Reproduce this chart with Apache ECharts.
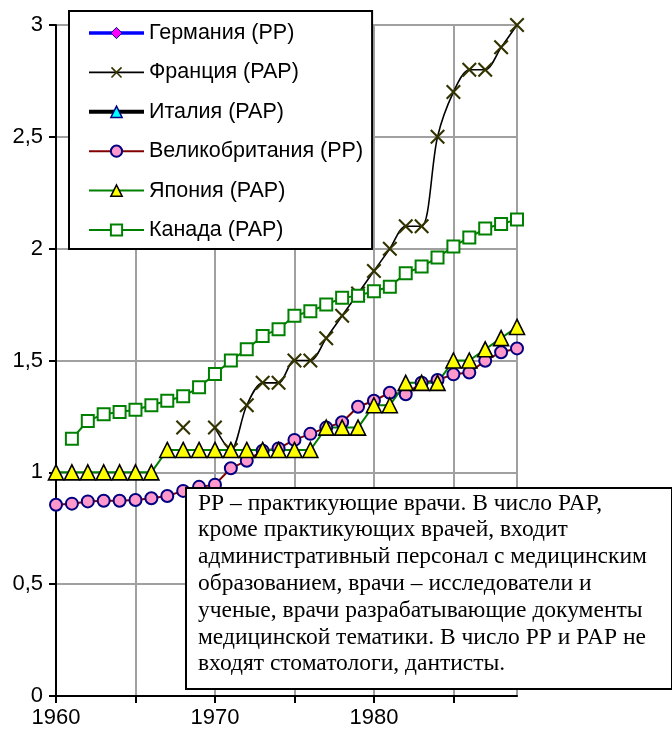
<!DOCTYPE html>
<html>
<head>
<meta charset="utf-8">
<script src="https://cdn.jsdelivr.net/npm/echarts@6/dist/echarts.min.js"></script>
<style>
html,body{margin:0;padding:0;background:#fff;}
#chart{width:672px;height:731px;}
</style>
</head>
<body>
<div id="chart"></div>
<script>
const years = [1960,1961,1962,1963,1964,1965,1966,1967,1968,1969,1970,1971,1972,1973,1974,1975,1976,1977,1978,1979,1980,1981,1982,1983,1984,1985,1986,1987,1988,1989];
const germany = [];
const italy = [];
const france = [null,null,null,null,null,null,null,null,1.2,null,1.2,1.1,1.3,1.4,1.4,1.5,1.5,1.6,1.7,1.8,1.9,2.0,2.1,2.1,2.5,2.7,2.8,2.8,2.9,3.0];
const uk = [0.855,0.86,0.87,0.873,0.873,0.876,0.884,0.894,0.917,0.935,0.945,1.018,1.052,1.097,1.107,1.145,1.172,1.2,1.224,1.293,1.32,1.356,1.349,1.401,1.413,1.438,1.446,1.499,1.537,1.554];
const japan = [1.0,1.0,1.0,1.0,1.0,1.0,1.0,1.1,1.1,1.1,1.1,1.1,1.1,1.1,1.1,1.1,1.1,1.2,1.2,1.2,1.3,1.3,1.4,1.4,1.4,1.5,1.5,1.55,1.6,1.65];
const canada = [null,1.15,1.23,1.26,1.27,1.28,1.30,1.32,1.34,1.38,1.44,1.50,1.55,1.61,1.64,1.70,1.72,1.75,1.78,1.79,1.81,1.83,1.89,1.92,1.96,2.01,2.05,2.09,2.11,2.13];
const seriesNames = ['Германия (PP)','Франция (PAP)','Италия (PAP)','Великобритания (PP)','Япония (PAP)','Канада (PAP)'];
const yTicks = [0,0.5,1,1.5,2,2.5,3];
const xLabels = [1960,1970,1980];
const noteLines = [
 'PP – практикующие врачи. В число PAP,',
 'кроме практикующих врачей, входит',
 'административный персонал с медицинским',
 'образованием, врачи – исследователи и',
 'ученые, врачи разрабатывающие документы',
 'медицинской тематики. В число PP и PAP не',
 'входят стоматологи, дантисты.'
];

function pairs(arr){ return years.map((y,i)=>[y, arr[i] === undefined ? null : arr[i]]); }

const xPath = 'path://M0,1L1,0L5,4L9,0L10,1L6,5L10,9L9,10L5,6L1,10L0,9L4,5Z';
const sans = '"Liberation Sans", Arial, sans-serif';

const styles = {
  germany:{line:{color:'#0000ff',width:3.5}, item:{color:'#ff00ff',borderColor:'#000080',borderWidth:1}},
  france:{line:{color:'#000',width:1.6}, item:{color:'#333300',borderWidth:0}},
  italy:{line:{color:'#000',width:4}, item:{color:'#00ffff',borderColor:'#000080',borderWidth:1.5}},
  uk:{line:{color:'#800000',width:2}, item:{color:'#ff99cc',borderColor:'#000080',borderWidth:2}},
  japan:{line:{color:'#008000',width:2}, item:{color:'#ffff00',borderColor:'#000',borderWidth:1.6}},
  canada:{line:{color:'#008000',width:2}, item:{color:'#fff',borderColor:'#008000',borderWidth:2}}
};
const keys = ['germany','france','italy','uk','japan','canada'];

const chart = echarts.init(document.getElementById('chart'), null, {renderer:'canvas'});
chart.setOption({
  animation:false,
  backgroundColor:'#fff',
  grid:{left:56,right:155,top:25,bottom:35,show:true,borderColor:'#a0a0a0',borderWidth:2,backgroundColor:'transparent'},
  legend:{
    data:seriesNames.map((n,i)=>({name:n,lineStyle:styles[keys[i]].line,itemStyle:styles[keys[i]].item})),
    orient:'vertical',
    left:69, top:11,
    padding:[11,9,8,18],
    itemGap:17.4,
    itemWidth:55, itemHeight:14,
    backgroundColor:'#fff',
    borderColor:'#000', borderWidth:2, borderRadius:0,
    textStyle:{fontFamily:sans,fontSize:21.5,color:'#000',lineHeight:22}
  },
  xAxis:{
    type:'value', min:1960, max:1989, interval:5,
    axisLine:{show:true,lineStyle:{color:'#000',width:2}},
    axisTick:{show:true,length:7,lineStyle:{color:'#000',width:2}},
    axisLabel:{fontFamily:sans,fontSize:22,color:'#000',margin:11,showMaxLabel:false,
      formatter:v=> xLabels.indexOf(v)>=0 ? String(v) : ''},
    splitLine:{show:true,lineStyle:{color:'#a0a0a0',width:2}}
  },
  yAxis:{
    type:'value', min:0, max:3, interval:0.5,
    axisLine:{show:true,lineStyle:{color:'#000',width:2}},
    axisTick:{show:true,length:7,lineStyle:{color:'#000',width:2}},
    axisLabel:{fontFamily:sans,fontSize:22,color:'#000',margin:13,
      formatter:v=> String(yTicks.find(t=>Math.abs(t-v)<1e-9)).replace('.',',')},
    splitLine:{show:true,lineStyle:{color:'#a0a0a0',width:2}}
  },
  series:[
    {name:seriesNames[0],type:'line',data:germany,symbol:'diamond',symbolSize:12,
     lineStyle:styles.germany.line,itemStyle:styles.germany.item},
    {name:seriesNames[1],type:'line',data:pairs(france),symbol:xPath,symbolSize:15,smooth:0.3,connectNulls:false,
     lineStyle:styles.france.line,itemStyle:styles.france.item},
    {name:seriesNames[2],type:'line',data:italy,symbol:'triangle',symbolSize:12,
     lineStyle:styles.italy.line,itemStyle:styles.italy.item},
    {name:seriesNames[3],type:'line',data:pairs(uk),symbol:'circle',symbolSize:12,
     lineStyle:styles.uk.line,itemStyle:styles.uk.item},
    {name:seriesNames[4],type:'line',data:pairs(japan),symbol:'triangle',symbolSize:15,
     lineStyle:styles.japan.line,itemStyle:styles.japan.item},
    {name:seriesNames[5],type:'line',data:pairs(canada),symbol:'rect',symbolSize:12,
     lineStyle:styles.canada.line,itemStyle:styles.canada.item}
  ],
  graphic:[
    {type:'rect',left:185,top:487,z:100,shape:{width:486,height:201},
     style:{fill:'#fff',stroke:'#000',lineWidth:2}},
    {type:'text',left:198,top:490,z:101,
     style:{text:noteLines.join('\n'),font:'23.5px "Liberation Serif", "Times New Roman", serif',lineHeight:26.8,fill:'#000'}}
  ]
});
</script>
</body>
</html>
